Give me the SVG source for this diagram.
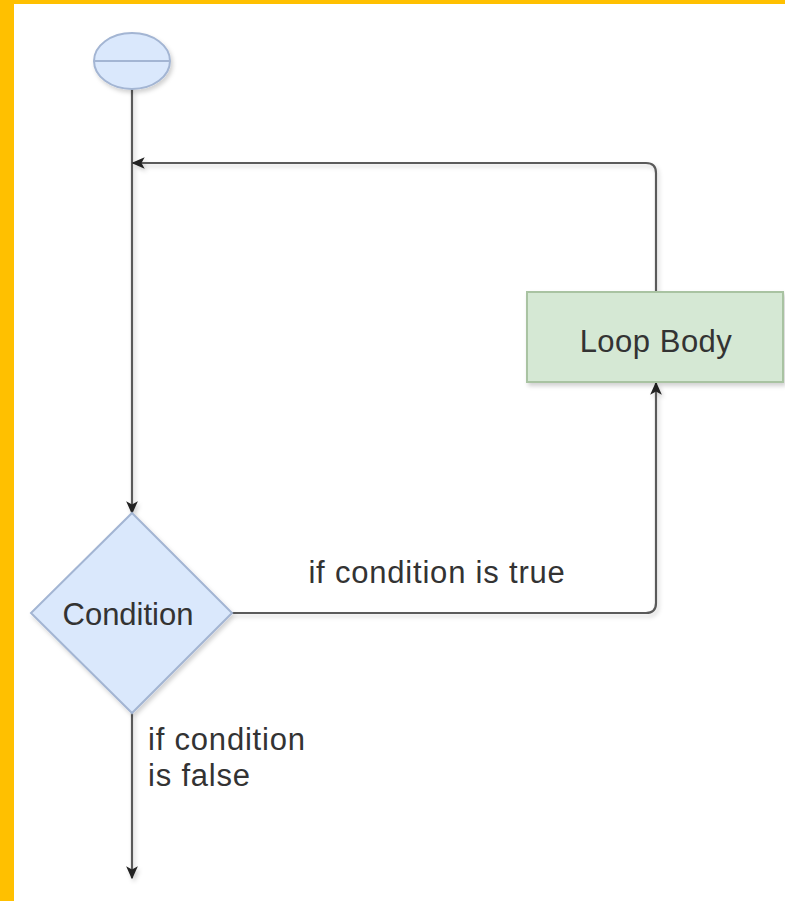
<svg xmlns="http://www.w3.org/2000/svg" width="785" height="901" viewBox="0 0 785 901">
<defs>
<style>
.edge{fill:none;stroke:#5a5a5a;stroke-width:2.2}
.lbl{font-family:"Liberation Sans",Arial,sans-serif;font-size:31px;fill:#333333}
.blue{fill:#dae8fc;stroke:#a3b5d3;stroke-width:2}
.green{fill:#d5e8d4;stroke:#a9c3a2;stroke-width:2}
</style>
<filter id="sh" x="-20%" y="-20%" width="140%" height="140%">
<feDropShadow dx="2" dy="3" stdDeviation="2" flood-color="#000" flood-opacity="0.18"/>
</filter>
<marker id="ah" viewBox="0 0 10 10" refX="9" refY="5" markerWidth="13" markerHeight="13" markerUnits="userSpaceOnUse" orient="auto">
<path d="M0,0.5 L10,5 L0,9.5 L2.5,5 Z" fill="#222"/>
</marker>
</defs>
<rect x="0" y="0" width="785" height="901" fill="#ffffff"/>
<rect x="0" y="0" width="785" height="4" fill="#ffc000"/>
<rect x="0" y="0" width="14" height="901" fill="#ffc000"/>
<g id="connectors" filter="url(#sh)">
<path class="edge" d="M132,89 L132,513" marker-end="url(#ah)"/>
<path class="edge" d="M656,292 L656,173 Q656,163 646,163 L133,163" marker-end="url(#ah)"/>
<path class="edge" d="M232,613 L646,613 Q656,613 656,603 L656,383" marker-end="url(#ah)"/>
<path class="edge" d="M132,713 L132,878" marker-end="url(#ah)"/>
</g>
<g id="start" filter="url(#sh)">
<ellipse class="blue" cx="132" cy="61" rx="38" ry="28"/>
<line x1="94" y1="61" x2="170" y2="61" stroke="#a3b5d3" stroke-width="2"/>
</g>
<g id="loopbody">
<rect class="green" x="527" y="292" width="256" height="90" filter="url(#sh)"/>
<text class="lbl" x="656" y="352" text-anchor="middle" letter-spacing="0.5">Loop Body</text>
</g>
<g id="condition">
<path class="blue" d="M132,513 L232,613 L132,713 L31,613 Z" filter="url(#sh)"/>
<text class="lbl" x="128" y="625" text-anchor="middle">Condition</text>
</g>
<g id="labels">
<text class="lbl" x="437" y="583" text-anchor="middle" letter-spacing="0.8">if condition is true</text>
<text class="lbl" x="148" y="750" letter-spacing="0.8">if condition</text>
<text class="lbl" x="148" y="786" letter-spacing="0.8">is false</text>
</g>
</svg>
